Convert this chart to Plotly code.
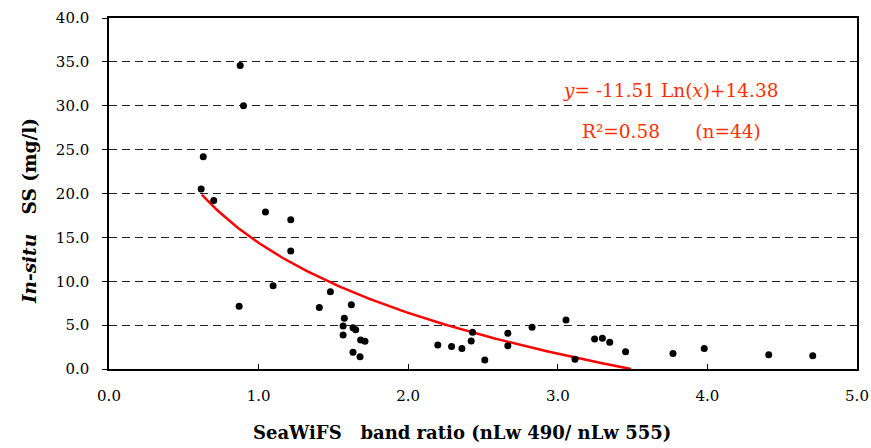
import numpy as np
import plotly.graph_objects as go

# Observed points: SeaWiFS band ratio vs in-situ SS (mg/l)
band_ratio = [0.877, 0.899, 0.63, 0.616, 0.70, 1.046, 1.215, 1.215, 1.097, 0.87,
              1.406, 1.48, 1.62, 1.573, 1.565, 1.565, 1.631, 1.649, 1.682, 1.711,
              1.631, 1.678, 2.198, 2.29, 2.359, 2.421, 2.43, 2.512, 2.666, 2.666,
              2.828, 3.055, 3.115, 3.246, 3.298, 3.347, 3.453, 3.77, 3.979, 4.41, 4.704]
ss_insitu = [34.6, 30.0, 24.2, 20.5, 19.2, 17.9, 17.0, 13.45, 9.5, 7.15,
             7.0, 8.8, 7.33, 5.77, 4.9, 3.87, 4.7, 4.48, 3.3, 3.15,
             1.9, 1.4, 2.73, 2.55, 2.35, 3.19, 4.18, 1.03, 4.06, 2.66,
             4.75, 5.58, 1.1, 3.42, 3.5, 3.04, 1.97, 1.78, 2.35, 1.63, 1.51]

# Logarithmic trendline reported on the chart
fit_slope = -11.51
fit_intercept = 14.38
fit_xmin, fit_xmax = 0.62, 3.49

x_ticks = [0, 1, 2, 3, 4, 5]
x_tick_labels = ["0.0", "1.0", "2.0", "3.0", "4.0", "5.0"]
y_ticks = [0, 5, 10, 15, 20, 25, 30, 35, 40]
y_tick_labels = ["0.0", "5.0", "10.0", "15.0", "20.0", "25.0", "30.0", "35.0", "40.0"]

fit_x = np.linspace(fit_xmin, fit_xmax, 200)
fit_y = fit_slope * np.log(fit_x) + fit_intercept

SERIF = "DejaVu Serif"
RED_TXT = "#ff3000"

fig = go.Figure()
fig.add_trace(go.Scatter(x=fit_x, y=fit_y, mode="lines",
                         line=dict(color="#ff0000", width=2.5), hoverinfo="skip"))
fig.add_trace(go.Scatter(x=band_ratio, y=ss_insitu, mode="markers",
                         marker=dict(color="black", size=7)))

fig.update_layout(
    width=871, height=448,
    margin=dict(l=109, r=14, t=18, b=79, autoexpand=False),
    paper_bgcolor="white", plot_bgcolor="white",
    showlegend=False,
    font=dict(family=SERIF, size=15, color="black"),
)
fig.update_xaxes(
    range=[0, 5], tickvals=x_ticks, ticktext=x_tick_labels,
    ticks="inside", ticklen=5, tickcolor="black",
    showline=True, linecolor="black", linewidth=1.5, mirror=True,
    showgrid=False, zeroline=False, automargin=False,
    tickfont=dict(family=SERIF, size=15),
    ticklabelstandoff=12, ticklabeloverflow="allow",
)
fig.update_yaxes(
    range=[0, 40], tickvals=y_ticks, ticktext=y_tick_labels,
    ticks="outside", ticklen=5, tickcolor="black",
    showline=True, linecolor="black", linewidth=1.5, mirror=True,
    showgrid=True, gridcolor="#222222", gridwidth=1, griddash="8px,5px",
    zeroline=False, automargin=False,
    tickfont=dict(family=SERIF, size=15),
    ticklabelstandoff=10,
)

fig.add_annotation(
    xref="paper", yref="paper", x=-0.106, y=0.449,
    text="<b><i>In-situ</i>\u00a0\u00a0\u00a0SS (mg/l)</b>", textangle=-90,
    showarrow=False, font=dict(family=SERIF, size=18.5, color="black"),
    xanchor="center", yanchor="middle",
)
fig.add_annotation(
    xref="paper", yref="paper", x=0.472, y=-0.18,
    text="<b>SeaWiFS\u00a0\u00a0\u00a0band ratio (nLw 490/ nLw 555)</b>",
    showarrow=False, font=dict(family=SERIF, size=18, color="black"),
    xanchor="center", yanchor="middle",
)
fig.add_annotation(
    x=3.75, y=31.7, xref="x", yref="y",
    text=f"<i>y</i>= -{abs(fit_slope):.2f} Ln(<i>x</i>)+{fit_intercept:.2f}",
    showarrow=False, font=dict(family=SERIF, size=18.5, color=RED_TXT),
    xanchor="center", yanchor="middle",
)
fig.add_annotation(
    x=3.76, y=27.1, xref="x", yref="y",
    text="R\u00b2=0.58\u00a0\u00a0\u00a0\u00a0\u00a0\u00a0(n=44)",
    showarrow=False, font=dict(family=SERIF, size=18.5, color=RED_TXT),
    xanchor="center", yanchor="middle",
)

# remove the browser's default page margin so the 871x448 figure fills the window
fig.write_html(
    "out.html",
    config={"displayModeBar": False},
    post_script="document.body.style.margin='0';document.body.style.overflow='hidden';",
)
